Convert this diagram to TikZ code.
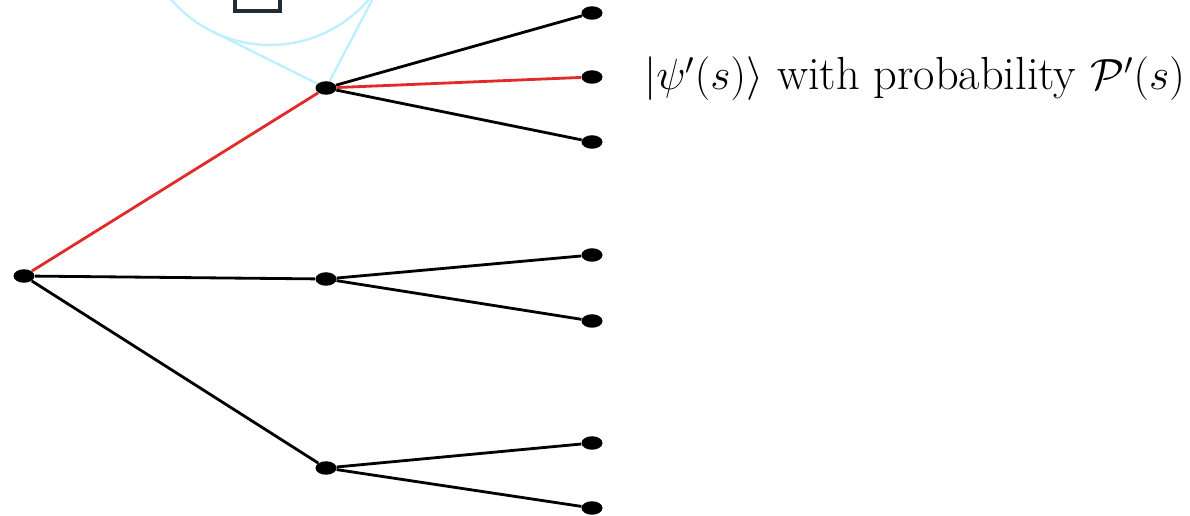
\documentclass[tikz,border=0pt]{standalone}
\usepackage{amsmath}
\usepackage{amssymb}
\usetikzlibrary{shapes.geometric, calc, backgrounds}
\definecolor{branchred}{HTML}{E32A2A}
\definecolor{lenscyan}{HTML}{C0F0FF}
\definecolor{framegray}{HTML}{1E2D37}
\tikzset{
  treedot/.style={ellipse, fill=black, inner sep=0pt, minimum width=0.42cm, minimum height=0.27cm},
  branch/.style={line width=1.6pt, black},
  chosen/.style={line width=1.6pt, branchred},
}

\begin{document}
\begin{tikzpicture}[x=0.02cm, y=-0.02cm]
    \useasboundingbox (0,0) rectangle (1190,516);

    % root and first split
    \node[treedot] (root) at (24,276) {};
    \node[treedot] (a) at (326,88) {};
    \node[treedot] (b) at (326,279) {};
    \node[treedot] (c) at (326,468) {};

    % leaves
    \node[treedot] (a1) at (592,13) {};
    \node[treedot] (a2) at (592,77) {};
    \node[treedot] (a3) at (592,142) {};
    \node[treedot] (b1) at (592,255) {};
    \node[treedot] (b2) at (592,321) {};
    \node[treedot] (c1) at (592,443) {};
    \node[treedot] (c2) at (592,508) {};

    \node[anchor=west, font=\fontsize{26.4}{31}\selectfont] (outcome) at (638,79)
        {$|\psi'(s)\rangle$ with probability $\mathcal{P}'(s)$};

    % zoom lens behind the upper branch
    \begin{scope}[on background layer]
        \clip (0,0) rectangle (1190,516);
        \node[circle, draw=lenscyan, line width=1.4pt, minimum size=5.2cm, inner sep=0pt, outer sep=0pt] (lens) at (270,-85) {};
        \draw[framegray, line width=2pt] (235,-40) rectangle (280,11);
        \draw[lenscyan, line width=1.4pt]
            (tangent cs:node=lens, point={(a.center)}, solution=1) -- (a.center)
            -- (tangent cs:node=lens, point={(a.center)}, solution=2);
    \end{scope}

    \draw[chosen] (root) -- (a);
    \draw[branch] (root) -- (b);
    \draw[branch] (root) -- (c);

    \draw[branch] (a) -- (a1);
    \draw[chosen] (a) -- (a2);
    \draw[branch] (a) -- (a3);
    \draw[branch] (b) -- (b1);
    \draw[branch] (b) -- (b2);
    \draw[branch] (c) -- (c1);
    \draw[branch] (c) -- (c2);
\end{tikzpicture}
\end{document}
